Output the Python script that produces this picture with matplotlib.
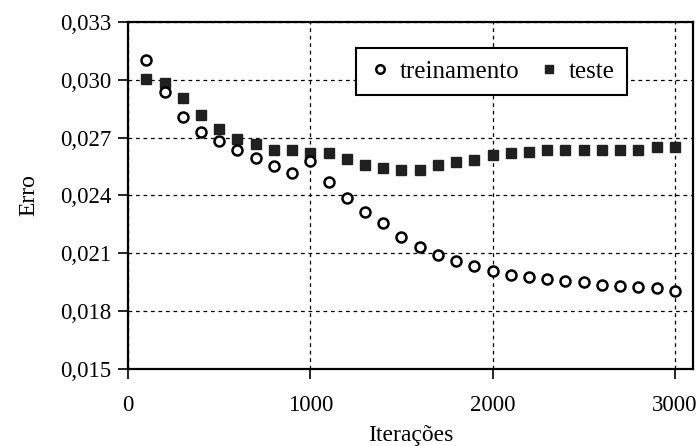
import matplotlib
matplotlib.use('Agg')
import matplotlib.pyplot as plt
from matplotlib.ticker import FuncFormatter

# dados
iteracoes = list(range(100, 3001, 100))
treinamento = [0.03103, 0.02937, 0.02808, 0.02730, 0.02680, 0.02637, 0.02595, 0.02550,
               0.02518, 0.02580, 0.02470, 0.02388, 0.02316, 0.02255, 0.02186, 0.02134,
               0.02093, 0.02057, 0.02031, 0.02010, 0.01989, 0.01979, 0.01968, 0.01958,
               0.01948, 0.01937, 0.01932, 0.01922, 0.01917, 0.01906]
teste = [0.03005, 0.02984, 0.02906, 0.02818, 0.02745, 0.02694, 0.02668, 0.02637,
         0.02637, 0.02621, 0.02620, 0.02590, 0.02559, 0.02543, 0.02533, 0.02533,
         0.02559, 0.02575, 0.02585, 0.02611, 0.02620, 0.02625, 0.02637, 0.02637,
         0.02637, 0.02637, 0.02637, 0.02637, 0.02652, 0.02652]
yticks = [0.015, 0.018, 0.021, 0.024, 0.027, 0.030, 0.033]
xticks = [0, 1000, 2000, 3000]

plt.rcParams['font.family'] = ['Liberation Serif', 'DejaVu Serif']
plt.rcParams['font.size'] = 16

fig = plt.figure(figsize=(7, 4.46), dpi=100)
ax = fig.add_axes([0.183, 0.173, 0.807, 0.778])

ax.plot(iteracoes, treinamento, 'o', ls='none', mfc='white', mec='black',
        mew=1.8, ms=7.2, label='treinamento', zorder=3)
ax.plot(iteracoes, teste, 's', ls='none', mfc='#202020', mec='#202020',
        ms=7.4, label='teste', zorder=2)

ax.set_xlim(0, 3100)
ax.set_ylim(0.015, 0.033)
ax.set_xticks(xticks)
ax.set_yticks(yticks)
ax.yaxis.set_major_formatter(FuncFormatter(lambda v, p: ('%.3f' % v).replace('.', ',')))
ax.grid(True, color='black', ls=(0, (3, 3)), lw=0.9)
for s in ax.spines.values():
    s.set_linewidth(1.6)
ax.tick_params(direction='out', length=7, width=1.2, labelsize=16.5, pad=5)
ax.tick_params(axis='x', pad=12)

ax.set_xlabel('Iterações', fontsize=17, labelpad=6)
ax.set_ylabel('Erro', fontsize=17, labelpad=15)

leg = ax.legend(loc='upper right', bbox_to_anchor=(0.883, 0.925), borderaxespad=0,
                ncol=2, frameon=True, fancybox=False, edgecolor='black', framealpha=1,
                fontsize=18, handletextpad=0.35, columnspacing=0.7, borderpad=0.5,
                handlelength=0.9, markerscale=0.85)
leg.get_frame().set_linewidth(1.5)

plt.savefig('out.png', dpi=100)
